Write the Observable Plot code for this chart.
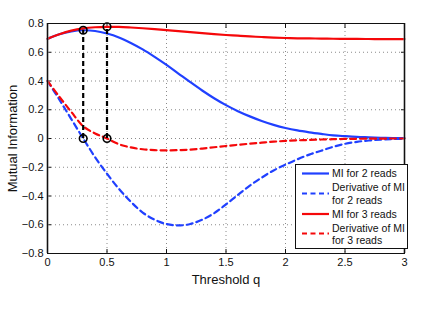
<!DOCTYPE html>
<html>
<head>
<meta charset="utf-8">
<script src="https://cdn.jsdelivr.net/npm/d3@7"></script>
<script src="https://cdn.jsdelivr.net/npm/@observablehq/plot@0.6"></script>
<style>
  html, body { margin: 0; padding: 0; background: #fff; }
  #wrap { position: relative; width: 432px; height: 309px; font-family: "Liberation Sans", Arial, sans-serif; }
  #legend { position: absolute; left: 295px; top: 164px; }
</style>
</head>
<body>
<div id="wrap"><div id="legend"></div></div>
<script>
// Threshold values
const q = [0, 0.1, 0.2, 0.3, 0.4, 0.5, 0.6, 0.7, 0.8, 0.9, 1.0, 1.1, 1.2, 1.3, 1.4, 1.5, 1.6, 1.7, 1.8, 1.9, 2.0, 2.1, 2.2, 2.3, 2.4, 2.5, 2.6, 2.7, 2.8, 2.9, 3.0];
// MI for 2 reads
const mi2 = [0.693, 0.725, 0.745, 0.753, 0.748, 0.730, 0.703, 0.665, 0.620, 0.568, 0.512, 0.452, 0.392, 0.334, 0.280, 0.232, 0.190, 0.154, 0.122, 0.095, 0.073, 0.056, 0.043, 0.032, 0.022, 0.016, 0.011, 0.008, 0.005, 0.003, 0.002];
// Derivative of MI for 2 reads
const dmi2 = [0.40, 0.27, 0.135, 0.0, -0.13, -0.245, -0.35, -0.44, -0.515, -0.565, -0.595, -0.605, -0.595, -0.565, -0.52, -0.458, -0.392, -0.328, -0.272, -0.222, -0.182, -0.145, -0.112, -0.085, -0.058, -0.037, -0.023, -0.014, -0.008, -0.004, -0.002];
// MI for 3 reads
const mi3 = [0.693, 0.725, 0.750, 0.766, 0.774, 0.777, 0.776, 0.772, 0.767, 0.761, 0.754, 0.747, 0.740, 0.733, 0.726, 0.720, 0.715, 0.710, 0.706, 0.702, 0.699, 0.697, 0.696, 0.695, 0.694, 0.693, 0.693, 0.692, 0.692, 0.692, 0.692];
// Derivative of MI for 3 reads
const dmi3 = [0.40, 0.29, 0.185, 0.085, 0.035, 0.0, -0.04, -0.062, -0.075, -0.081, -0.083, -0.081, -0.077, -0.07, -0.061, -0.052, -0.044, -0.036, -0.029, -0.022, -0.017, -0.013, -0.010, -0.007, -0.005, -0.003, -0.002, -0.001, -0.001, 0.0, 0.0];

// Marked thresholds and MI peaks
const markQ = [0.3, 0.5];
const markMI = [0.753, 0.777];

const xTicks = [0, 0.5, 1, 1.5, 2, 2.5, 3];
const xTickLabels = ["0", "0.5", "1", "1.5", "2", "2.5", "3"];
const yTicks = [-0.8, -0.6, -0.4, -0.2, 0, 0.2, 0.4, 0.6, 0.8];
const yTickLabels = ["\u22120.8", "\u22120.6", "\u22120.4", "\u22120.2", "0", "0.2", "0.4", "0.6", "0.8"];

const seriesNames = ["MI for 2 reads", "Derivative of MI\nfor 2 reads", "MI for 3 reads", "Derivative of MI\nfor 3 reads"];
const BLUE = "#2040ff";
const RED = "#f5080a";
const seriesColors = [BLUE, BLUE, RED, RED];
const seriesDash = [null, "6,4", null, "6,4"];

const rows = q.map((d, i) => ({q: d, mi2: mi2[i], dmi2: dmi2[i], mi3: mi3[i], dmi3: dmi3[i]}));
const marks = markQ.map((d, i) => ({q: d, mi: markMI[i]}));
const dots = marks.flatMap(d => [{q: d.q, v: d.mi}, {q: d.q, v: 0}]);

const xFmt = d => xTickLabels[xTicks.indexOf(d)];
const yFmt = d => yTickLabels[yTicks.indexOf(d)];
const noFmt = () => "";

const gridStyle = {stroke: "#8a8a8a", strokeOpacity: 1, strokeWidth: 1, strokeDasharray: "1,3"};

const chart = Plot.plot({
  width: 432,
  height: 309,
  marginLeft: 47,
  marginRight: 28,
  marginTop: 23,
  marginBottom: 56,
  style: {fontFamily: "Liberation Sans, Arial, sans-serif", fontSize: "11px", background: "white", color: "#111"},
  x: {domain: [0, 3]},
  y: {domain: [-0.8, 0.8]},
  marks: [
    Plot.gridX(xTicks, gridStyle),
    Plot.gridY(yTicks, gridStyle),
    Plot.axisX(xTicks, {tickFormat: xFmt, tickSize: -4, tickPadding: 9, label: null, fontSize: 11}),
    Plot.axisY(yTicks, {tickFormat: yFmt, tickSize: -4, tickPadding: 8, label: null, fontSize: 11}),
    Plot.axisX(xTicks, {anchor: "top", tickFormat: noFmt, tickSize: -4, label: null}),
    Plot.axisY(yTicks, {anchor: "right", tickFormat: noFmt, tickSize: -4, label: null}),
    Plot.axisX([], {label: "Threshold q", labelAnchor: "center", labelArrow: "none", labelOffset: 30, fontSize: 13}),
    Plot.axisY([], {label: "Mutual Information", labelAnchor: "center", labelArrow: "none", labelOffset: 40, fontSize: 13}),
    Plot.line(rows, {x: "q", y: "mi2", stroke: seriesColors[0], strokeWidth: 2.2, curve: "catmull-rom"}),
    Plot.line(rows, {x: "q", y: "dmi2", stroke: seriesColors[1], strokeWidth: 2.2, strokeDasharray: seriesDash[1], curve: "catmull-rom"}),
    Plot.line(rows, {x: "q", y: "mi3", stroke: seriesColors[2], strokeWidth: 2.2, curve: "catmull-rom"}),
    Plot.line(rows, {x: "q", y: "dmi3", stroke: seriesColors[3], strokeWidth: 2.2, strokeDasharray: seriesDash[3], curve: "catmull-rom"}),
    Plot.ruleX(marks, {x: "q", y1: 0, y2: "mi", stroke: "black", strokeWidth: 2.2, strokeDasharray: "5,3"}),
    Plot.dot(dots, {x: "q", y: "v", r: 3.8, stroke: "black", strokeWidth: 1.6, fill: "none"}),
    Plot.ruleX([0, 3], {stroke: "#777", strokeWidth: 2}),
    Plot.frame({stroke: "#111", strokeWidth: 1})
  ]
});
document.getElementById("wrap").prepend(chart);

// Legend
const lg = d3.select("#legend").append("svg")
  .attr("width", 114).attr("height", 86)
  .style("font-family", "Liberation Sans, Arial, sans-serif")
  .style("font-size", "10.5px");
lg.append("rect").attr("x", 0.5).attr("y", 0.5).attr("width", 112).attr("height", 84)
  .attr("fill", "white").attr("stroke", "#111");
const lineY = [9.5, 29.5, 50, 69.5];
const textY = [[9.5], [23.5, 36], [50], [64, 76.5]];
seriesNames.forEach((name, i) => {
  const ln = lg.append("line").attr("x1", 7).attr("x2", 34).attr("y1", lineY[i]).attr("y2", lineY[i])
    .attr("stroke", seriesColors[i]).attr("stroke-width", 2.2);
  if (seriesDash[i]) ln.attr("stroke-dasharray", "5,3.5");
  name.split("\n").forEach((t, j) => {
    lg.append("text").attr("x", 37).attr("y", textY[i][j]).attr("dy", "0.35em").attr("fill", "#111").text(t);
  });
});
</script>
</body>
</html>
